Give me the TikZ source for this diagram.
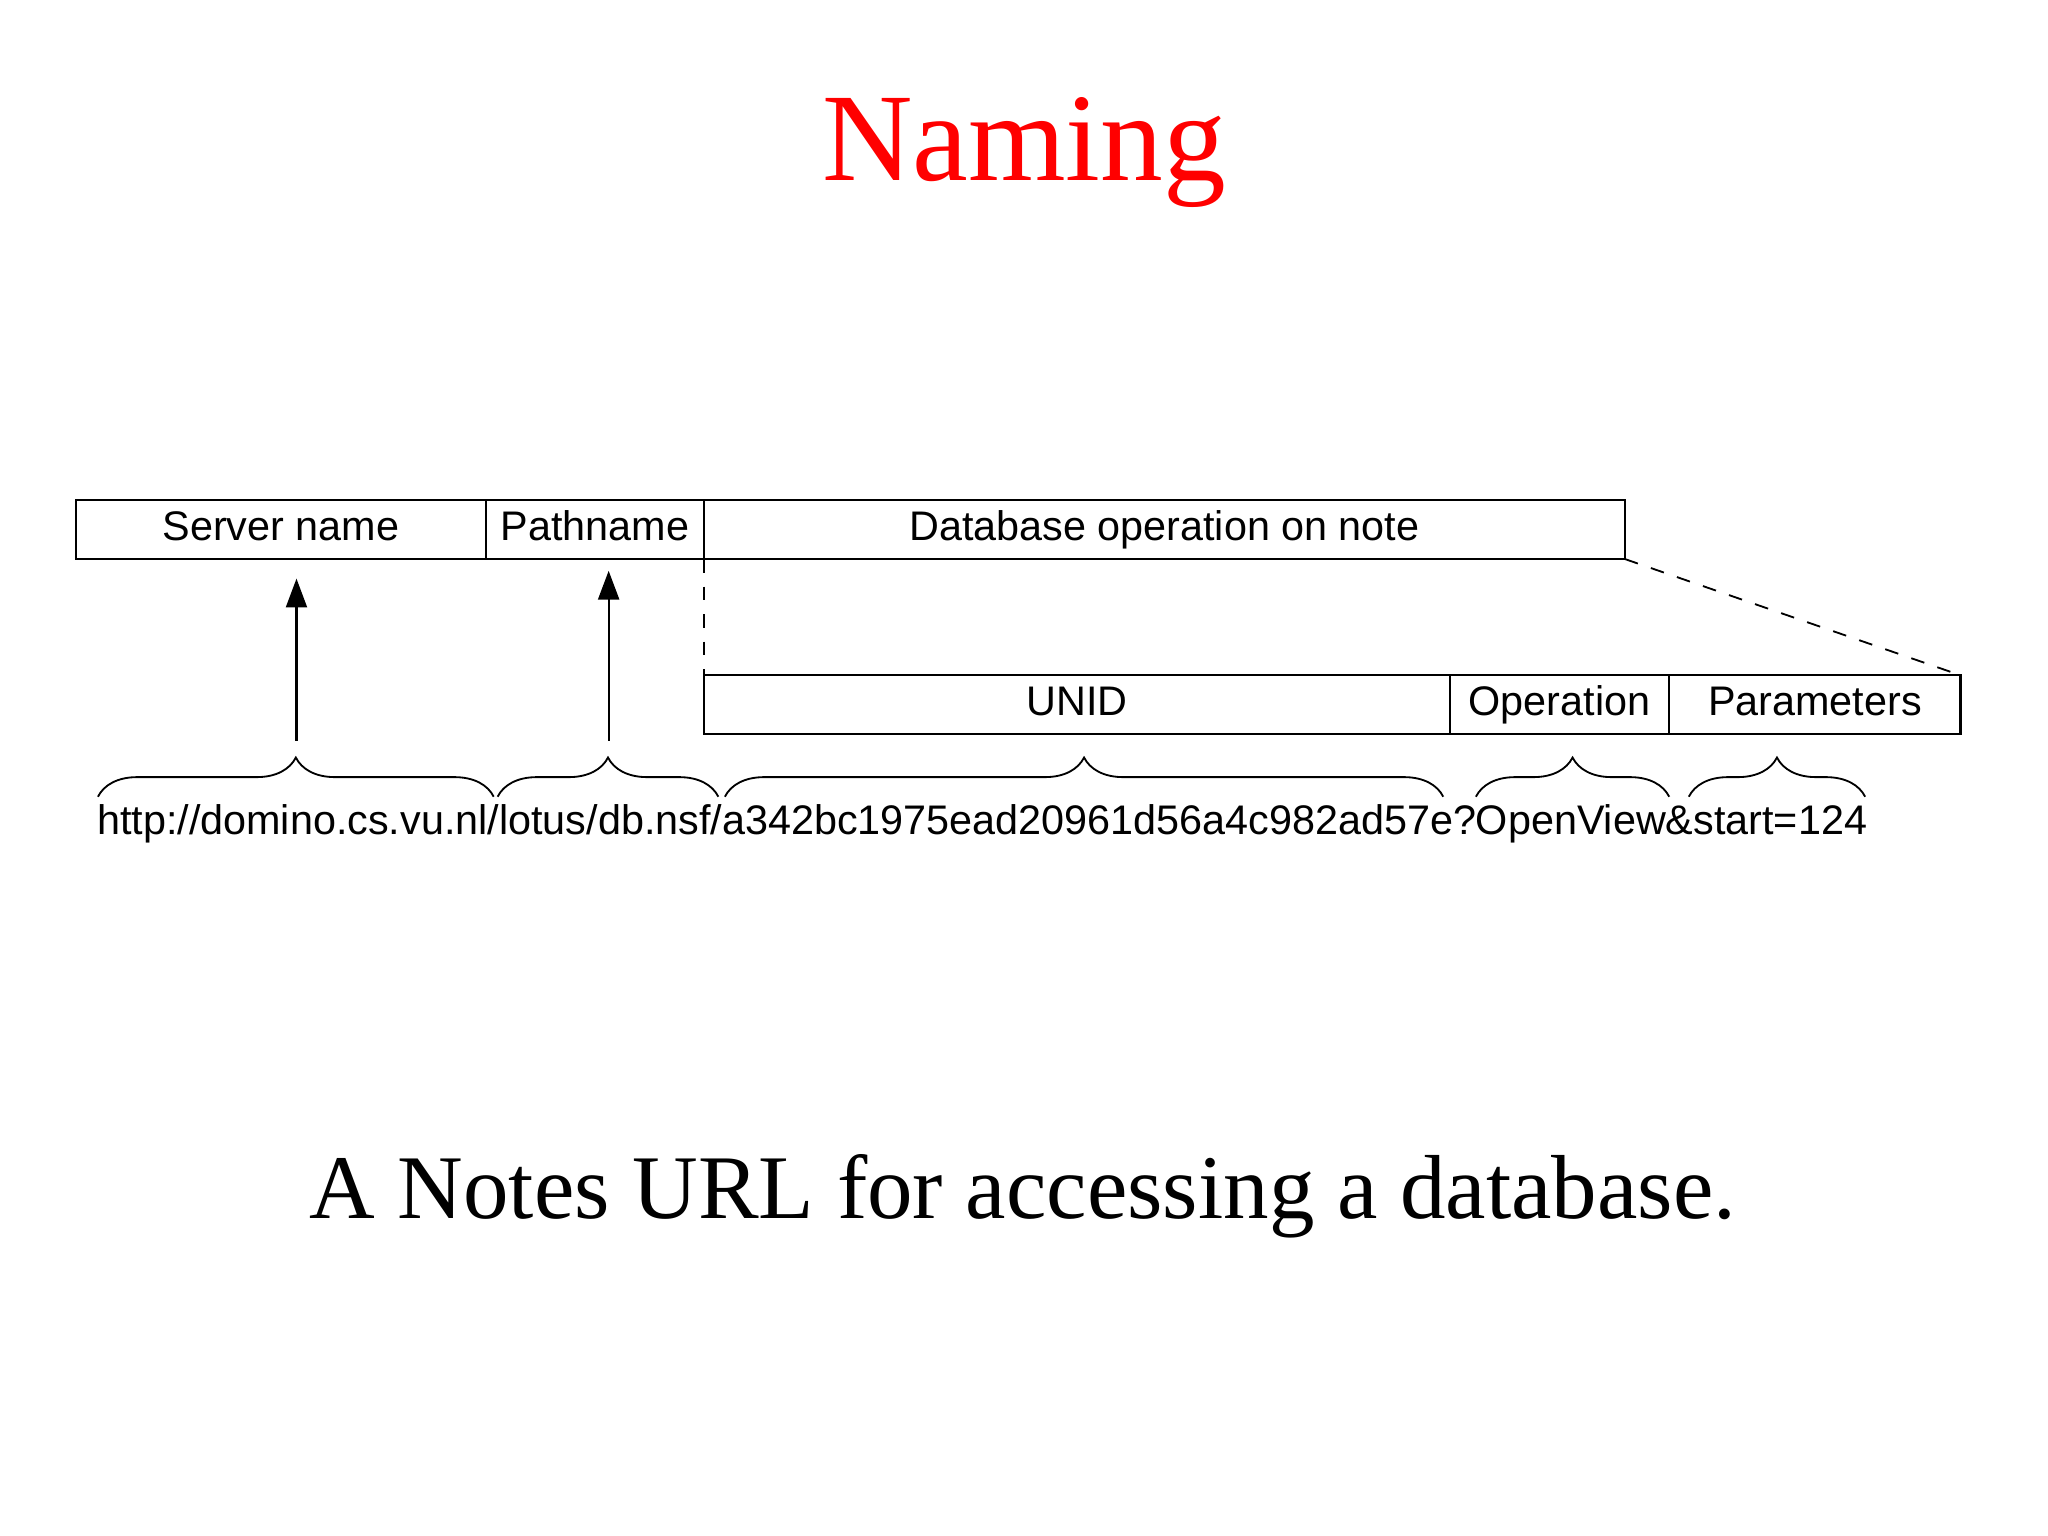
\documentclass[tikz,border=0pt]{standalone}
\usepackage{fontspec}
\setmainfont{Liberation Serif}
\newfontfamily\arial{Liberation Sans}
\usetikzlibrary{decorations.pathreplacing,arrows.meta}
\begin{document}
\begin{tikzpicture}[x=0.01cm,y=-0.01cm,
  cell/.style={draw,line width=0.5pt,minimum height=45*0.01cm,inner sep=0pt,outer sep=0pt,text height=6.6pt,text depth=1.8pt,anchor=north west,font=\arial\fontsize{9}{11}\selectfont},
  br/.style={decorate,decoration={brace,amplitude=0.3cm},line width=0.4pt},
  up/.style={-{Triangle[length=0.22cm,width=0.16cm]},line width=0.5pt}]
\useasboundingbox (0,0) rectangle (1568,1176);
\node[text=red,font=\fontsize{27.3}{32}\selectfont,anchor=base] (title) at (784,138) {Naming};
\node[cell,minimum width=314*0.01cm] (srv) at (58,383) {Server name};
\node[cell,minimum width=167*0.01cm] (path) at (372,383) {Pathname};
\node[cell,minimum width=705*0.01cm] (db) at (539,383) {Database operation on note};
\node[cell,minimum width=571*0.01cm] (unid) at (539,517) {UNID};
\node[cell,minimum width=168*0.01cm] (op) at (1110,517) {Operation};
\node[cell,minimum width=223*0.01cm] (par) at (1278,517) {Parameters};
\draw[dashed,line width=0.4pt] (db.south west) -- (unid.north west);
\draw[dashed,line width=0.4pt] (db.south east) -- (par.north east);
\node[font=\arial\fontsize{9}{11}\selectfont,inner sep=0pt,anchor=base] (url) at (752,639) {http://domino.cs.vu.nl/lotus/db.nsf/a342bc1975ead20961d56a4c982ad57e?OpenView\&start=124};
\coordinate (a1) at (227,567); \coordinate (a2) at (466,567);
\draw[up] (a1) -- (227,443) coordinate (t1);
\draw[up] (a2) -- (466,437) coordinate (t2);
\draw[br] (75,610) -- (378,610);
\draw[br] (381,610) -- (550,610);
\draw[br] (555,610) -- (1105,610);
\draw[br] (1130,610) -- (1278,610);
\draw[br] (1293,610) -- (1428,610);
\node[font=\fontsize{19.8}{24}\selectfont,anchor=base] (cap) at (783,933) {A Notes URL for accessing a database.};
\end{tikzpicture}
\end{document}
